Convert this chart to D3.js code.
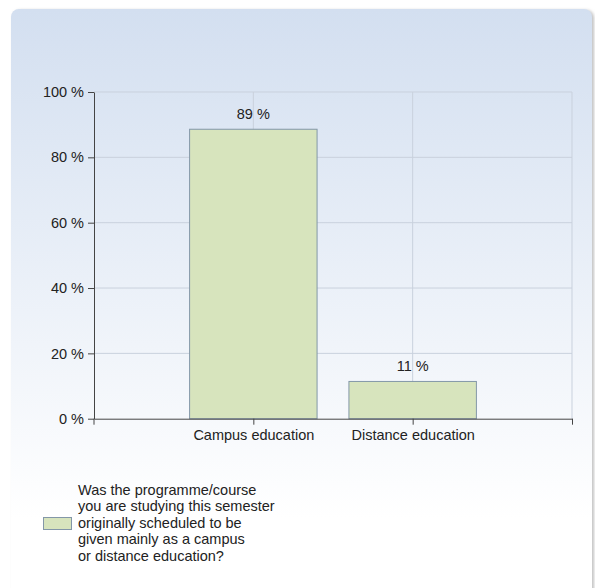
<!DOCTYPE html>
<html lang="en">
<head>
  <meta charset="UTF-8">
  <title>Campus or distance education</title>
  <script src="https://d3js.org/d3.v7.min.js"></script>
  <style>
    body { margin: 0; background: #fff; }
    svg { display: block; font-family: "Liberation Sans", Arial, sans-serif; }
  </style>
</head>
<body>
  <svg width="595" height="588"></svg>

  <script>
    // Data
    const categories = ["Campus education", "Distance education"];
    const values = [88.6, 11.4];
    const valueLabels = ["89 %", "11 %"];
    const yTicks = [0, 20, 40, 60, 80, 100];
    const legendLines = [
      "Was the programme/course",
      "you are studying this semester",
      "originally scheduled to be",
      "given mainly as a campus",
      "or distance education?"
    ];

    const svg = d3.select("svg");
    const margin = { top: 92, left: 94, right: 572, bottom: 418.7 };
    const fontSize = 14.5;

    // Panel background with gradient
    const defs = svg.append("defs");
    const grad = defs.append("linearGradient")
      .attr("id", "bg").attr("x1", 0).attr("y1", 0).attr("x2", 0).attr("y2", 1);
    grad.append("stop").attr("offset", "0%").attr("stop-color", "#d3dff0");
    grad.append("stop").attr("offset", "85%").attr("stop-color", "#ffffff");
    grad.append("stop").attr("offset", "100%").attr("stop-color", "#ffffff");

    const shadow = defs.append("filter").attr("id", "shadow")
      .attr("x", "-5%").attr("y", "-5%").attr("width", "110%").attr("height", "110%");
    shadow.append("feDropShadow").attr("dx", 2).attr("dy", 1).attr("stdDeviation", 1.5)
      .attr("flood-color", "#999").attr("flood-opacity", 0.6);

    svg.append("rect")
      .attr("x", 11).attr("y", 9).attr("width", 581).attr("height", 600)
      .attr("rx", 8).attr("ry", 8)
      .attr("fill", "url(#bg)")
      .attr("filter", "url(#shadow)");

    // Scales
    const x = d3.scaleLinear().domain([0, 3]).range([margin.left, margin.right]);
    const y = d3.scaleLinear().domain([0, 100]).range([margin.bottom, margin.top]);
    const step = x(1) - x(0);
    const barW = step * 0.8;

    // Horizontal grid
    svg.append("g")
      .selectAll("line")
      .data(yTicks.slice(1))
      .join("line")
      .attr("x1", margin.left).attr("x2", margin.right)
      .attr("y1", d => y(d)).attr("y2", d => y(d))
      .attr("stroke", "#c9d1dd").attr("stroke-width", 1);

    // Vertical grid
    svg.append("g")
      .selectAll("line")
      .data([1, 2, 3])
      .join("line")
      .attr("x1", d => x(d)).attr("x2", d => x(d))
      .attr("y1", margin.top).attr("y2", margin.bottom)
      .attr("stroke", "#c9d1dd").attr("stroke-width", 1);

    // Bars
    svg.append("g")
      .selectAll("rect")
      .data(values)
      .join("rect")
      .attr("x", (d, i) => x(i + 1) - barW / 2)
      .attr("width", barW)
      .attr("y", d => y(d))
      .attr("height", d => y(0) - y(d))
      .attr("fill", "#d7e4bd")
      .attr("stroke", "#8397a8")
      .attr("stroke-width", 1);

    // Value labels
    svg.append("g")
      .selectAll("text")
      .data(values)
      .join("text")
      .attr("x", (d, i) => x(i + 1))
      .attr("y", d => y(d) - 10)
      .attr("text-anchor", "middle")
      .attr("font-size", fontSize)
      .attr("fill", "#222")
      .text((d, i) => valueLabels[i]);

    // Y axis
    const yAxis = svg.append("g")
      .attr("transform", `translate(${margin.left},0)`)
      .call(d3.axisLeft(y).tickValues(yTicks).tickFormat(d => d + " %").tickSize(6).tickPadding(4).tickSizeOuter(0));
    yAxis.attr("font-family", null).attr("font-size", fontSize);
    yAxis.select(".domain").attr("stroke", "#444");
    yAxis.selectAll(".tick line").attr("stroke", "#444");
    yAxis.selectAll("text").attr("fill", "#222");
    svg.append("line")
      .attr("x1", margin.left).attr("x2", margin.left)
      .attr("y1", margin.bottom).attr("y2", margin.bottom + 6)
      .attr("stroke", "#444");

    // X axis
    const xAxis = svg.append("g")
      .attr("transform", `translate(0,${margin.bottom})`)
      .call(d3.axisBottom(x).tickValues([1, 2, 3])
        .tickFormat(d => categories[d - 1] || "")
        .tickSize(6).tickPadding(5).tickSizeOuter(0));
    xAxis.attr("font-family", null).attr("font-size", fontSize);
    xAxis.select(".domain").attr("stroke", "#444");
    xAxis.selectAll(".tick line").attr("stroke", "#444");
    xAxis.selectAll("text").attr("fill", "#222");

    // Legend
    const legend = svg.append("g");
    legend.append("rect")
      .attr("x", 43.5).attr("y", 517.5).attr("width", 28).attr("height", 12)
      .attr("fill", "#d7e4bd").attr("stroke", "#8397a8");
    legend.selectAll("text")
      .data(legendLines)
      .join("text")
      .attr("x", 78)
      .attr("y", (d, i) => 495 + i * 16.4)
      .attr("font-size", fontSize)
      .attr("fill", "#222")
      .text(d => d);
  </script>
</body>
</html>
